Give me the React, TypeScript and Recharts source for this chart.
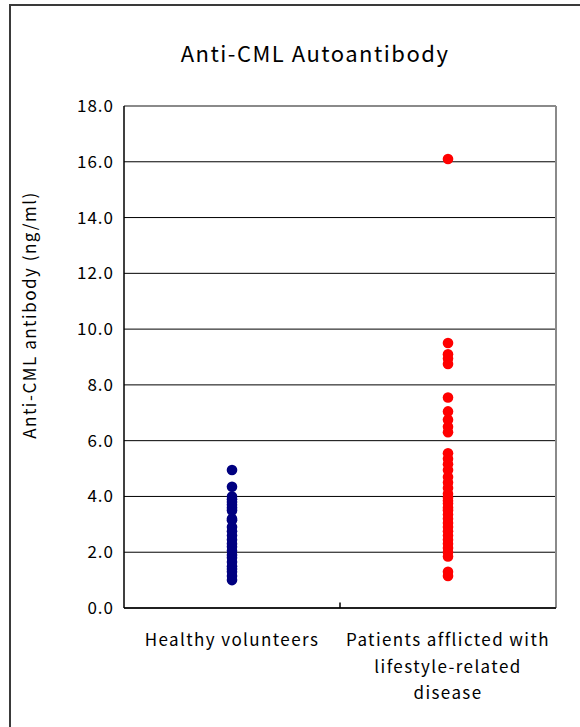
import {
  ScatterChart,
  Scatter,
  XAxis,
  YAxis,
  CartesianGrid,
  ReferenceLine,
} from 'recharts'

const categories = [
  ['Healthy volunteers'],
  ['Patients afflicted with', 'lifestyle-related', 'disease'],
]
const categoryPos = [0.5, 1.5]

const healthy = [
  4.95, 4.35, 4.0, 3.9, 3.8, 3.7, 3.6, 3.5, 3.2, 3.15, 2.9, 2.75, 2.6, 2.45,
  2.3, 2.2, 2.05, 1.9, 1.8, 1.65, 1.5, 1.4, 1.3, 1.15, 1.0,
]

const patients = [
  16.1, 9.5, 9.1, 8.95, 8.75, 7.55, 7.05, 6.75, 6.5, 6.3, 5.55, 5.35, 5.15,
  4.95, 4.7, 4.5, 4.3, 4.1, 3.95, 3.85, 3.75, 3.6, 3.5, 3.35, 3.2, 3.05, 2.9,
  2.75, 2.6, 2.45, 2.3, 2.15, 2.0, 1.85, 1.3, 1.15,
]

const yTicks = [0, 2, 4, 6, 8, 10, 12, 14, 16, 18]

const FONT = '"Noto Sans CJK JP", "Noto Sans", sans-serif'

const healthyData = healthy.map(v => ({ x: categoryPos[0], y: v }))
const patientData = patients.map(v => ({ x: categoryPos[1], y: v }))

function Dot(color: string) {
  return (props: any) => <circle cx={props.cx} cy={props.cy} r={5.3} fill={color} />
}

function CategoryTick(props: any) {
  const { x, y, payload } = props
  const idx = categoryPos.indexOf(payload.value)
  const lines = categories[idx] ?? []
  return (
    <text
      x={x}
      y={y + 30}
      textAnchor="middle"
      fontSize={17}
      letterSpacing={1.4}
      fill="#000"
    >
      {lines.map((l, i) => (
        <tspan key={i} x={x} dy={i === 0 ? 0 : 26.5}>
          {l}
        </tspan>
      ))}
    </text>
  )
}

export default function App() {
  return (
    <div
      style={{
        position: 'absolute',
        left: 0,
        top: 0,
        width: 580,
        height: 727,
        overflow: 'hidden',
        background: '#fff',
        fontFamily: FONT,
      }}
    >
      <div
        style={{
          position: 'absolute',
          left: 9,
          top: 4,
          width: 620,
          height: 760,
          border: '2px solid #3a3a3a',
        }}
      />
      <div
        style={{
          position: 'absolute',
          left: 0,
          top: 37,
          width: 630,
          textAlign: 'center',
          fontSize: 22,
          letterSpacing: 1.5,
          lineHeight: '30px',
          color: '#000',
        }}
      >
        Anti-CML Autoantibody
      </div>
      <div style={{ position: 'absolute', left: 0, top: 0 }}>
        <ScatterChart
          width={580}
          height={727}
          margin={{ top: 106, right: 24, bottom: 19, left: 8 }}
        >
          <CartesianGrid vertical={false} stroke="#000" />
          <XAxis
            type="number"
            dataKey="x"
            domain={[0, 2]}
            ticks={categoryPos}
            tick={<CategoryTick />}
            tickLine={false}
            axisLine={{ stroke: '#000', strokeWidth: 1.5 }}
            height={100}
            interval={0}
          />
          <YAxis
            type="number"
            dataKey="y"
            domain={[0, 18]}
            ticks={yTicks}
            width={116}
            tickFormatter={(v: number) => v.toFixed(1)}
            tick={{ fontSize: 17, fill: '#000', letterSpacing: 1 }}
            tickLine={false}
            tickMargin={4}
            axisLine={{ stroke: '#000', strokeWidth: 1.5 }}
            label={{
              content: ({ viewBox }: any) => {
                const lx = viewBox.x + 20
                const ly = viewBox.y + viewBox.height / 2 - 42
                return (
                  <text
                    x={lx}
                    y={ly}
                    transform={`rotate(-90 ${lx} ${ly})`}
                    textAnchor="middle"
                    dominantBaseline="central"
                    fontSize={17}
                    letterSpacing={1.5}
                    fill="#000"
                  >
                    Anti-CML antibody (ng/ml)
                  </text>
                )
              },
            }}
          />
          <ReferenceLine y={18} stroke="#8a8a8a" strokeWidth={2} />
          <ReferenceLine x={2} stroke="#8a8a8a" strokeWidth={2} />
          <ReferenceLine
            segment={[
              { x: 1, y: 0 },
              { x: 1, y: 0.2 },
            ]}
            stroke="#000"
            strokeWidth={1.5}
          />
          <Scatter data={healthyData} fill="#000080" shape={Dot('#000080')} isAnimationActive={false} />
          <Scatter data={patientData} fill="#ff0000" shape={Dot('#ff0000')} isAnimationActive={false} />
        </ScatterChart>
      </div>
    </div>
  )
}
